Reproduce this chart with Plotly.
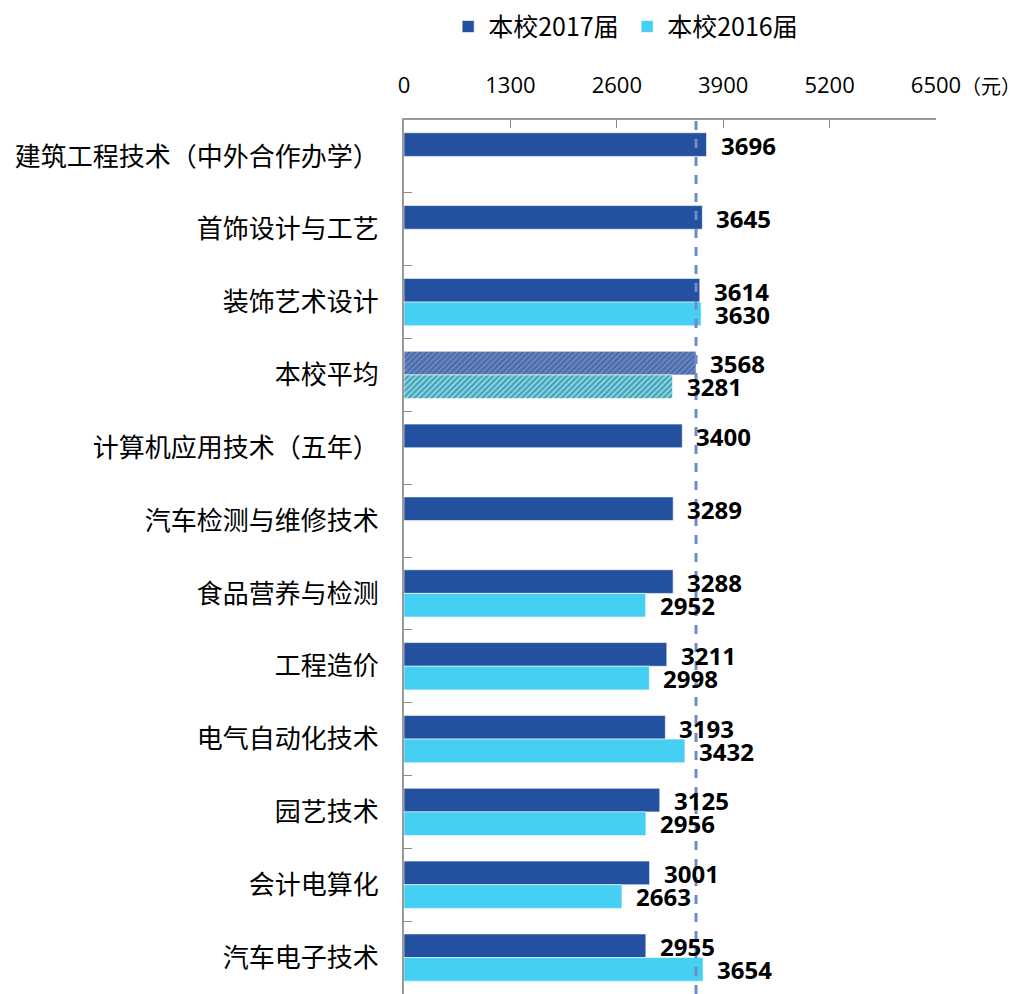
import plotly.graph_objects as go

# majors, top to bottom as in the report
majors = ['建筑工程技术（中外合作办学）', '首饰设计与工艺', '装饰艺术设计', '本校平均',
          '计算机应用技术（五年）', '汽车检测与维修技术', '食品营养与检测', '工程造价',
          '电气自动化技术', '园艺技术', '会计电算化', '汽车电子技术']
salary_2017 = [3696, 3645, 3614, 3568, 3400, 3289, 3288, 3211, 3193, 3125, 3001, 2955]
salary_2016 = [None, None, 3630, 3281, None, None, 2952, 2998, 3432, 2956, 2663, 3654]
school_avg = 3568
x_ticks = [0, 1300, 2600, 3900, 5200, 6500]

navy = '#23509F'
cyan = '#45CFF2'

# the school average row is hatched
is_avg = [m == '本校平均' for m in majors]
shape = ['/' if a else '' for a in is_avg]

fig = go.Figure()
fig.add_trace(go.Bar(
    y=majors, x=salary_2017, orientation='h', name='本校2017届',
    marker=dict(
        color=['#6189D8' if a else navy for a in is_avg],
        line=dict(color='white', width=0.6),
        pattern=dict(shape=shape, fillmode='overlay', fgcolor='#1F4497', size=4, solidity=0.5),
    ),
))
fig.add_trace(go.Bar(
    y=majors, x=salary_2016, orientation='h', name='本校2016届',
    marker=dict(
        color=['#72E0F8' if a else cyan for a in is_avg],
        line=dict(color='white', width=0.6),
        pattern=dict(shape=shape, fillmode='overlay', fgcolor='#1BA5CD', size=4, solidity=0.5),
    ),
))

lbl_font = dict(family='Open Sans', size=24, color='black', weight='bold')

# value labels to the right of each bar
annotations = []
for m, v in zip(majors, salary_2017):
    annotations.append(dict(x=v, y=m, text=str(v), showarrow=False, xanchor='left',
                            xshift=12, yshift=11, font=lbl_font))
for m, v in zip(majors, salary_2016):
    if v is None:
        continue
    annotations.append(dict(x=v, y=m, text=str(v), showarrow=False, xanchor='left',
                            xshift=12, yshift=-12, font=lbl_font))
annotations.append(dict(x=1.0, y=1.0, xref='paper', yref='paper', xanchor='left', yanchor='middle',
                        xshift=23, yshift=35, text='（元）', showarrow=False,
                        font=dict(family='Noto Sans CJK SC', size=20, color='black')))

fig.update_layout(
    width=1014, height=986,
    margin=dict(l=396, r=86, t=112, b=0),
    plot_bgcolor='white', paper_bgcolor='white',
    barmode='group', bargap=0.35, bargroupgap=0,
    annotations=annotations,
    shapes=[dict(type='line', xref='x', yref='paper', x0=school_avg, x1=school_avg, y0=0, y1=1,
                 line=dict(color='#6F8CC6', width=3, dash='dash'), layer='above')],
    legend=dict(orientation='h', x=0.083, y=0.981, xref='paper', yref='container',
                xanchor='left', yanchor='middle',
                entrywidth=134, entrywidthmode='pixels',
                font=dict(family='Noto Sans CJK SC', size=25, color='black'),
                traceorder='normal'),
    xaxis=dict(side='top', range=[0, 6500], tickvals=x_ticks, ticks='inside', ticklen=8,
               tickcolor='#888888', showline=True, linecolor='#999999', linewidth=2,
               showgrid=False, zeroline=False, ticklabelstandoff=16, automargin=False,
               tickfont=dict(family='Open Sans', size=22, color='black')),
    yaxis=dict(type='category', autorange=False, range=[11.5, -0.5], tickson='boundaries',
               ticks='inside', ticklen=8, tickcolor='#888888', showline=True,
               linecolor='#999999', linewidth=2, showgrid=False, ticklabelstandoff=18,
               automargin=False,
               tickfont=dict(family='Noto Sans CJK SC', size=26, color='black')),
)

fig.write_html('out.html')
